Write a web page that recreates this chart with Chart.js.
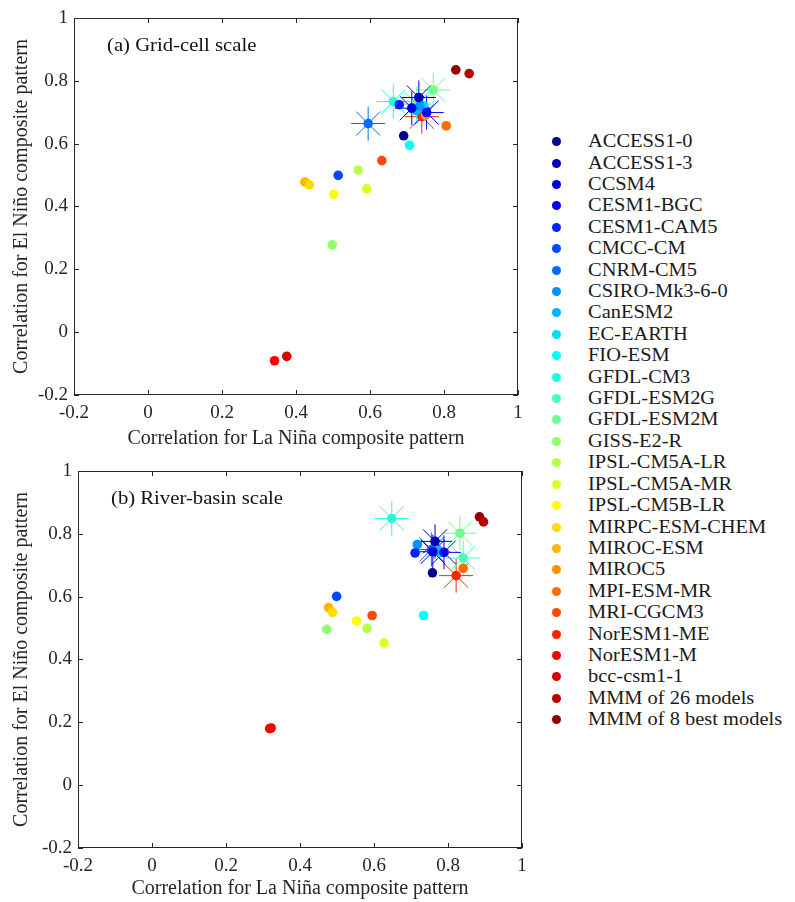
<!DOCTYPE html>
<html>
<head>
<meta charset="utf-8">
<script src="https://cdn.jsdelivr.net/npm/chart.js@4.4.1/dist/chart.umd.min.js"></script>
<style>
  html, body { margin: 0; padding: 0; background: #fff; }
  body { width: 795px; height: 902px; position: relative; overflow: hidden; font-family: "Liberation Serif", "Times New Roman", serif; }
  canvas { position: absolute; left: 0; }
  #panelA { top: 0; }
  #panelB { top: 453px; }
  #legend { position: absolute; left: 548px; top: 131px; }
  .row { height: 21.42px; display: flex; align-items: center; white-space: nowrap; }
  .dot { width: 9px; height: 9px; border-radius: 50%; margin-left: 3.5px; margin-right: 27.5px; flex: none; }
  .row span { font-size: 18px; color: #1a1a1a; display: inline-block; transform: scaleX(1.135); transform-origin: left center; }
</style>
</head>
<body>
<canvas id="panelA" width="540" height="460"></canvas>
<canvas id="panelB" width="540" height="449"></canvas>
<div id="legend"></div>
<script>
const models = ['ACCESS1-0', 'ACCESS1-3', 'CCSM4', 'CESM1-BGC', 'CESM1-CAM5', 'CMCC-CM', 'CNRM-CM5',
  'CSIRO-Mk3-6-0', 'CanESM2', 'EC-EARTH', 'FIO-ESM', 'GFDL-CM3', 'GFDL-ESM2G', 'GFDL-ESM2M',
  'GISS-E2-R', 'IPSL-CM5A-LR', 'IPSL-CM5A-MR', 'IPSL-CM5B-LR', 'MIRPC-ESM-CHEM', 'MIROC-ESM',
  'MIROC5', 'MPI-ESM-MR', 'MRI-CGCM3', 'NorESM1-ME', 'NorESM1-M', 'bcc-csm1-1',
  'MMM of 26 models', 'MMM of 8 best models'];

// jet colormap, 28 entries
const colors = ['rgb(0,0,146)', 'rgb(0,0,182)', 'rgb(0,0,219)', 'rgb(0,0,255)', 'rgb(0,36,255)',
  'rgb(0,73,255)', 'rgb(0,109,255)', 'rgb(0,146,255)', 'rgb(0,182,255)', 'rgb(0,219,255)',
  'rgb(0,255,255)', 'rgb(36,255,219)', 'rgb(73,255,182)', 'rgb(109,255,146)', 'rgb(146,255,109)',
  'rgb(182,255,73)', 'rgb(219,255,36)', 'rgb(255,255,0)', 'rgb(255,219,0)', 'rgb(255,182,0)',
  'rgb(255,146,0)', 'rgb(255,109,0)', 'rgb(255,73,0)', 'rgb(255,36,0)', 'rgb(255,0,0)',
  'rgb(219,0,0)', 'rgb(182,0,0)', 'rgb(146,0,0)'];

const bestModels = ['ACCESS1-3', 'CCSM4', 'CESM1-BGC', 'CNRM-CM5', 'GFDL-CM3', 'GFDL-ESM2G', 'GFDL-ESM2M', 'NorESM1-ME'];

// (a) grid-cell scale
const gridLaNina = [0.691, 0.732, 0.713, 0.753, 0.679, 0.514, 0.595, 0.735, 0.725, 0.745, 0.707, 0.663, 0.726, 0.771,
  0.498, 0.568, 0.591, 0.502, 0.436, 0.424, 0.750, 0.806, 0.632, 0.740, 0.342, 0.375, 0.868, 0.832];
const gridElNino = [0.625, 0.747, 0.713, 0.699, 0.724, 0.499, 0.664, 0.720, 0.705, 0.720, 0.595, 0.734, 0.726, 0.771,
  0.278, 0.516, 0.456, 0.439, 0.469, 0.478, 0.690, 0.657, 0.546, 0.686, -0.091, -0.077, 0.823, 0.835];

// (b) river-basin scale
const basinLaNina = [0.758, 0.765, 0.759, 0.789, 0.711, 0.499, 0.755, 0.717, 0.770, 0.780, 0.734, 0.648, 0.841, 0.832,
  0.472, 0.581, 0.627, 0.553, 0.488, 0.477, 0.790, 0.841, 0.595, 0.822, 0.318, 0.322, 0.896, 0.885];
const basinElNino = [0.676, 0.776, 0.743, 0.741, 0.739, 0.601, 0.750, 0.766, 0.745, 0.740, 0.540, 0.849, 0.723, 0.802,
  0.496, 0.499, 0.453, 0.522, 0.550, 0.565, 0.740, 0.690, 0.540, 0.667, 0.180, 0.182, 0.838, 0.854];

const tickValues = [-0.2, 0, 0.2, 0.4, 0.6, 0.8, 1];

const serif = "'Liberation Serif', 'Times New Roman', serif";
const ink = '#262626';

// box round the axes with inward ticks, plus the panel tag
const framePlugin = {
  id: 'frame',
  beforeDatasetsDraw(chart, args, opts) {
    const { ctx, chartArea: a, scales: { x, y } } = chart;
    ctx.save();
    ctx.strokeStyle = ink;
    ctx.lineWidth = 1;
    ctx.strokeRect(a.left + 0.5, a.top + 0.5, a.right - a.left - 1, a.bottom - a.top - 1);
    ctx.beginPath();
    x.ticks.forEach(t => {
      const px = Math.round(x.getPixelForValue(t.value)) + 0.5;
      ctx.moveTo(px, a.bottom); ctx.lineTo(px, a.bottom - 5);
      ctx.moveTo(px, a.top); ctx.lineTo(px, a.top + 5);
    });
    y.ticks.forEach(t => {
      const py = Math.round(y.getPixelForValue(t.value)) + 0.5;
      ctx.moveTo(a.left, py); ctx.lineTo(a.left + 5, py);
      ctx.moveTo(a.right, py); ctx.lineTo(a.right - 5, py);
    });
    ctx.stroke();
    ctx.fillStyle = '#111';
    ctx.font = '18px ' + serif;
    ctx.textBaseline = 'middle';
    ctx.translate(a.left + 33, a.top + 28);
    ctx.scale(1.15, 1);
    ctx.fillText(opts.label, 0, 0);
    ctx.restore();
  }
};

function drawPanel(id, xs, ys, label, yWidth, xHeight, xTitlePad) {
  const datasets = [];
  models.forEach((m, i) => {
    datasets.push({
      label: m,
      data: [{ x: xs[i], y: ys[i] }],
      pointStyle: 'circle',
      pointRadius: 4.8,
      backgroundColor: colors[i],
      borderColor: colors[i],
      borderWidth: 0,
      order: 0
    });
  });
  models.forEach((m, i) => {
    if (!bestModels.includes(m)) return;
    datasets.push({
      label: m + ' star',
      data: [{ x: xs[i], y: ys[i] }],
      pointStyle: 'star',
      pointRadius: 17,
      backgroundColor: colors[i],
      borderColor: colors[i],
      borderWidth: 1,
      order: 1
    });
  });

  const tickFont = { family: serif, size: 19 };
  const titleFont = { family: serif, size: 20, lineHeight: 1 };
  const fmt = v => String(Math.round(v * 10) / 10);
  const setTicks = s => { s.ticks = tickValues.map(v => ({ value: v })); };

  new Chart(document.getElementById(id), {
    type: 'scatter',
    data: { datasets },
    options: {
      responsive: false,
      animation: false,
      layout: { padding: { top: 17, right: 540 - 444 - yWidth, left: 0, bottom: 0 } },
      plugins: {
        legend: { display: false },
        tooltip: { enabled: false },
        frame: { label }
      },
      scales: {
        x: {
          type: 'linear', min: -0.2, max: 1,
          afterBuildTicks: setTicks,
          afterFit: s => { s.height = xHeight; },
          ticks: { padding: 7, color: ink, font: tickFont, callback: fmt, maxRotation: 0, autoSkip: false },
          grid: { display: false, drawTicks: false },
          border: { display: false },
          title: { display: true, text: 'Correlation for La Niña composite pattern', color: ink,
                   font: titleFont, padding: { top: 0, bottom: xTitlePad } }
        },
        y: {
          type: 'linear', min: -0.2, max: 1,
          afterBuildTicks: setTicks,
          afterFit: s => { s.width = yWidth; },
          ticks: { padding: 6, color: ink, font: tickFont, callback: fmt, autoSkip: false },
          grid: { display: false, drawTicks: false },
          border: { display: false },
          title: { display: true, text: 'Correlation for El Niño composite pattern', color: ink,
                   font: titleFont, padding: { top: 12, bottom: 0 } }
        }
      }
    },
    plugins: [framePlugin]
  });
}

drawPanel('panelA', gridLaNina, gridElNino, '(a) Grid-cell scale', 74, 65, 11);
drawPanel('panelB', basinLaNina, basinElNino, '(b) River-basin scale', 78, 54, 3);

const legend = document.getElementById('legend');
models.forEach((m, i) => {
  const row = document.createElement('div');
  row.className = 'row';
  const dot = document.createElement('div');
  dot.className = 'dot';
  dot.style.background = colors[i];
  const txt = document.createElement('span');
  txt.textContent = m;
  row.appendChild(dot);
  row.appendChild(txt);
  legend.appendChild(row);
});
</script>
</body>
</html>
